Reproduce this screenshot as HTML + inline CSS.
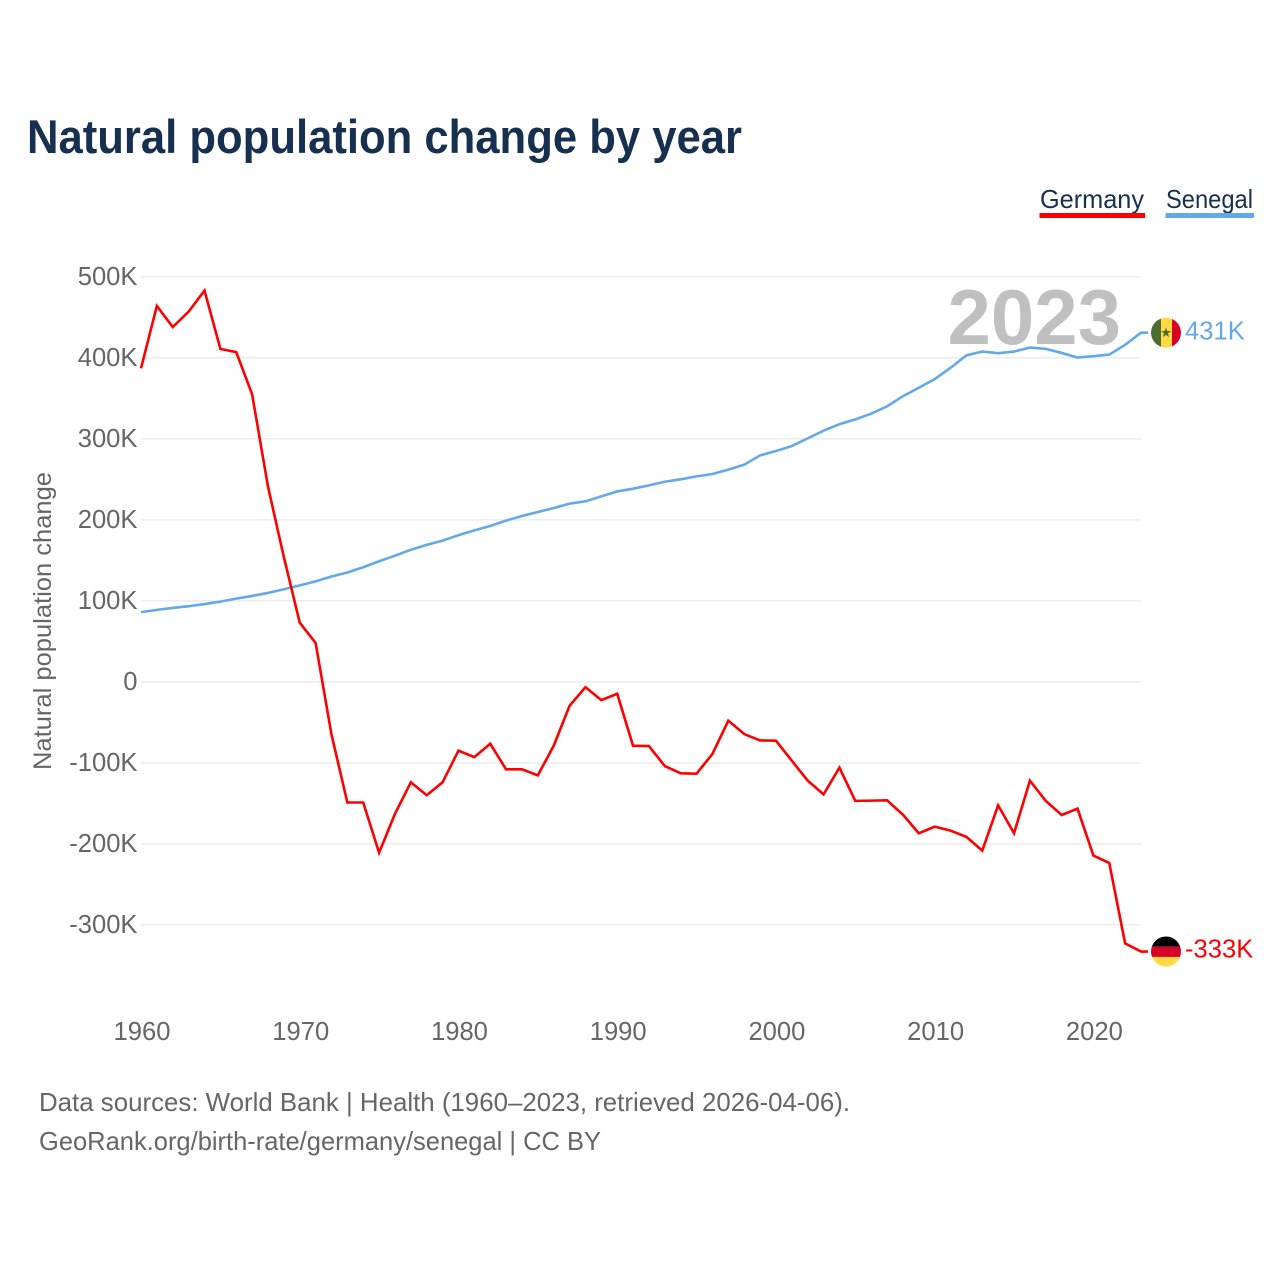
<!DOCTYPE html>
<html lang="en">
<head>
<meta charset="utf-8">
<title>Natural population change by year</title>
<style>
  html, body { margin: 0; padding: 0; background: #ffffff; }
  body { width: 1280px; height: 1280px; overflow: hidden; }
  svg { display: block; }
  text { font-family: "Liberation Sans", sans-serif; }
</style>
</head>
<body>
<svg id="chart" xmlns="http://www.w3.org/2000/svg" width="1280" height="1280" viewBox="0 0 1280 1280">
  <rect x="0" y="0" width="1280" height="1280" fill="#ffffff"/>
  <text x="27" y="153" font-size="47" font-weight="700" fill="#17304f" textLength="715" lengthAdjust="spacingAndGlyphs">Natural population change by year</text>

  <g>
    <g>
      <text x="1040" y="208" font-size="26" fill="#17304f" textLength="104" lengthAdjust="spacingAndGlyphs">Germany</text>
      <rect x="1039.5" y="213" width="105.5" height="5" fill="#ff0000"/>
    </g>
    <g>
      <text x="1166" y="208" font-size="26" fill="#17304f" textLength="87" lengthAdjust="spacingAndGlyphs">Senegal</text>
      <rect x="1165.5" y="213" width="88.5" height="5" fill="#62a8ea"/>
    </g>
  </g>

  <g id="grid"></g>
  <g id="y-axis"></g>
  <g id="x-axis"></g>
  <text transform="translate(51 621) rotate(-90)" text-anchor="middle" font-size="25" fill="#666666" textLength="298" lengthAdjust="spacingAndGlyphs">Natural population change</text>
  <text id="year-label" x="1121" y="344" text-anchor="end" font-size="78" font-weight="700" fill="#c0c0c0"></text>
  <g id="series"></g>

  <defs>
    <clipPath id="flag-clip"><circle cx="0" cy="0" r="15"/></clipPath>
  </defs>
  <g id="flag-senegal">
    <g clip-path="url(#flag-clip)">
      <rect x="-15" y="-15" width="10" height="30" fill="#496e2d"/>
      <rect x="-5" y="-15" width="11" height="30" fill="#ffda44"/>
      <rect x="6" y="-15" width="9" height="30" fill="#d80027"/>
      <polygon points="0,-5.2 1.3,-1.6 5,-1.6 2,0.7 3.1,4.4 0,2.2 -3.1,4.4 -2,0.7 -5,-1.6 -1.3,-1.6" fill="#496e2d"/>
    </g>
  </g>
  <g id="flag-germany">
    <g clip-path="url(#flag-clip)">
      <rect x="-15" y="-15" width="30" height="10.2" fill="#000000"/>
      <rect x="-15" y="-4.8" width="30" height="10.2" fill="#d80027"/>
      <rect x="-15" y="5.4" width="30" height="10" fill="#ffda44"/>
    </g>
  </g>
  <text id="value-senegal" x="1185" font-size="25.6" fill="#62a8ea"></text>
  <text id="value-germany" x="1185" font-size="25.6" fill="#ff0000"></text>

  <text x="39" y="1111" font-size="26" fill="#666666" textLength="811" lengthAdjust="spacingAndGlyphs">Data sources: World Bank | Health (1960–2023, retrieved 2026-04-06).</text>
  <text x="39" y="1150" font-size="26" fill="#666666" textLength="562" lengthAdjust="spacingAndGlyphs">GeoRank.org/birth-rate/germany/senegal | CC BY</text>
</svg>

<script>
const firstYear = 1960;
const germanyValues = [
  387, 464, 438, 457, 483, 411, 407, 355, 241, 154,
  73, 48, -65, -149, -149, -211, -163, -124, -140, -124,
  -85, -93, -76.5, -108, -108, -115.5, -79, -29.6, -6.6, -22.6,
  -14.8, -79, -79.3, -104, -113, -113.4, -89, -48, -64.5, -72.4,
  -72.7, -97.4, -122, -139, -106, -147, -146.7, -146.3, -164, -187,
  -178.8, -183.7, -191.5, -208.4, -152.5, -187, -122, -147, -164.4, -156.6,
  -214.5, -223.6, -323, -333
];
const senegalValues = [
  86, 88.8, 91.2, 93.3, 96, 99, 102.7, 106, 109.7, 114.3,
  119, 124, 130, 135, 141.4, 148.8, 155.7, 163, 169, 174.3,
  181, 187, 192.4, 199, 204.7, 209.6, 214.5, 220, 222.8, 229,
  235, 238.4, 242.5, 247, 250, 253.6, 256.5, 262, 268, 279.5,
  285, 291, 300.5, 310, 318, 324, 331, 340, 352.6, 363,
  373.6, 387.6, 403, 407.7, 405.7, 407.7, 412.6, 411, 406, 400.3,
  402, 404, 416, 431
];
const yTickValues = [500, 400, 300, 200, 100, 0, -100, -200, -300];
const yTickLabels = ['500K', '400K', '300K', '200K', '100K', '0', '-100K', '-200K', '-300K'];
const xTickYears = [1960, 1970, 1980, 1990, 2000, 2010, 2020];

const SVG_NS = 'http://www.w3.org/2000/svg';
const plotLeft = 141, plotRight = 1141;
const zeroY = 681.8, pxPerK = 0.81;
const lastYear = firstYear + germanyValues.length - 1;

function xScale(year) {
  return plotLeft + (year - firstYear) * (plotRight - plotLeft) / (lastYear - firstYear);
}
function yScale(value) {
  return zeroY - value * pxPerK;
}
function make(tag, attrs, parent) {
  const el = document.createElementNS(SVG_NS, tag);
  for (const key in attrs) el.setAttribute(key, attrs[key]);
  parent.appendChild(el);
  return el;
}
function linePath(values) {
  let d = values.map((v, i) => (i ? 'L' : 'M') + xScale(firstYear + i).toFixed(2) + ' ' + yScale(v).toFixed(2)).join(' ');
  d += ' L' + (plotRight + 7) + ' ' + yScale(values[values.length - 1]).toFixed(2);
  return d;
}
function formatValue(value) {
  return Math.round(value) + 'K';
}

const grid = document.getElementById('grid');
const yAxis = document.getElementById('y-axis');
const xAxis = document.getElementById('x-axis');
const series = document.getElementById('series');

yTickValues.forEach((value, i) => {
  const y = yScale(value);
  const line = make('line', { x1: plotLeft, x2: plotRight, y1: y, y2: y, stroke: '#eeeeee', 'stroke-width': 1.6 }, grid);
  
  
  const label = make('text', { x: 137.5, y: y + 8, 'text-anchor': 'end', 'font-size': 25.6, fill: '#666666' }, yAxis);
  label.textContent = yTickLabels[i];
  
  
});

xTickYears.forEach((year) => {
  const label = make('text', { x: xScale(year) + 1, y: 1040, 'text-anchor': 'middle', 'font-size': 25.6, fill: '#666666' }, xAxis);
  label.textContent = String(year);
  
  
});

const senegalLine = make('path', { d: linePath(senegalValues), fill: 'none', stroke: '#62a8ea', 'stroke-width': 2.6, 'stroke-linejoin': 'miter' }, series);



const germanyLine = make('path', { d: linePath(germanyValues), fill: 'none', stroke: '#ff0000', 'stroke-width': 2.6, 'stroke-linejoin': 'miter' }, series);



const senegalLast = senegalValues[senegalValues.length - 1];
const germanyLast = germanyValues[germanyValues.length - 1];
document.getElementById('flag-senegal').setAttribute('transform', 'translate(1166 ' + yScale(senegalLast) + ')');
document.getElementById('flag-germany').setAttribute('transform', 'translate(1166 ' + yScale(germanyLast) + ')');
const senegalValueLabel = document.getElementById('value-senegal');
senegalValueLabel.setAttribute('y', yScale(senegalLast) + 7);
senegalValueLabel.textContent = formatValue(senegalLast);
const germanyValueLabel = document.getElementById('value-germany');
germanyValueLabel.setAttribute('y', yScale(germanyLast) + 6);
germanyValueLabel.textContent = formatValue(germanyLast);
document.getElementById('year-label').textContent = String(lastYear);
</script>
</body>
</html>
